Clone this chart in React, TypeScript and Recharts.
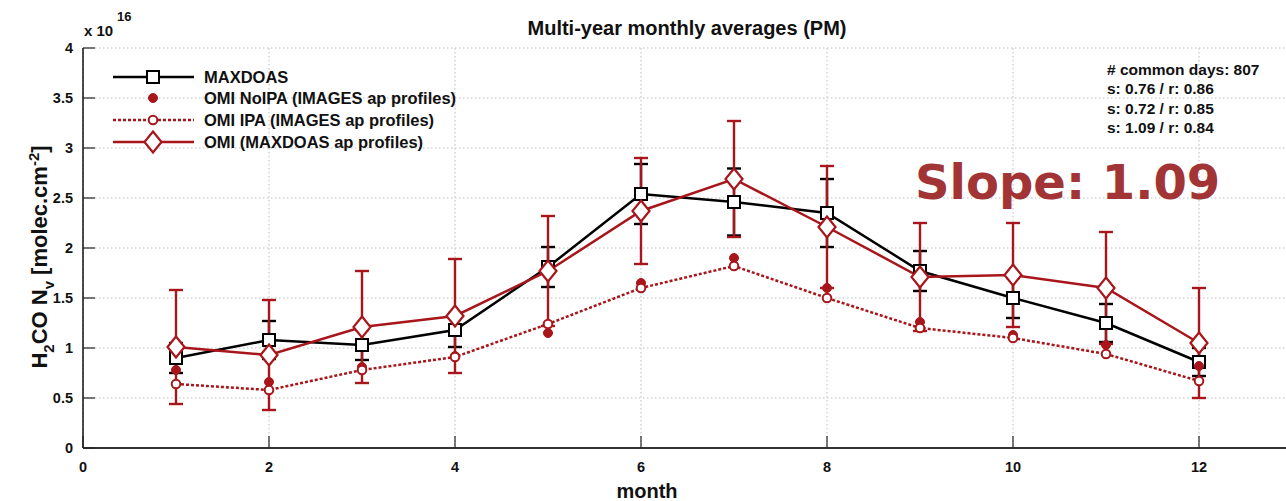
import React from 'react';
import { LineChart, Line, XAxis, YAxis, CartesianGrid, ErrorBar, Legend } from 'recharts';

const months = [1, 2, 3, 4, 5, 6, 7, 8, 9, 10, 11, 12];
const maxdoas = [0.9, 1.08, 1.03, 1.18, 1.81, 2.54, 2.46, 2.35, 1.77, 1.5, 1.25, 0.86];
const maxdoasErr = [0.15, 0.19, 0.15, 0.17, 0.2, 0.3, 0.335, 0.34, 0.2, 0.2, 0.19, 0.14];
const omiNoIpa = [0.78, 0.66, 0.81, 0.92, 1.15, 1.65, 1.9, 1.6, 1.26, 1.13, 1.03, 0.82];
const omiIpa = [0.64, 0.58, 0.78, 0.91, 1.24, 1.6, 1.82, 1.5, 1.2, 1.1, 0.94, 0.67];
const omiMaxAp = [1.01, 0.93, 1.21, 1.32, 1.77, 2.37, 2.69, 2.21, 1.71, 1.73, 1.6, 1.05];
const omiMaxApErr = [0.57, 0.55, 0.56, 0.57, 0.55, 0.53, 0.58, 0.61, 0.54, 0.52, 0.56, 0.55];

const xTicks = [0, 2, 4, 6, 8, 10, 12];
const yTicks = [0, 0.5, 1, 1.5, 2, 2.5, 3, 3.5, 4];
const legendLabels = [
  'MAXDOAS',
  'OMI NoIPA (IMAGES ap profiles)',
  'OMI IPA (IMAGES ap profiles)',
  'OMI (MAXDOAS ap profiles)',
];
const statsLines = ['# common days: 807', 's: 0.76 / r: 0.86', 's: 0.72 / r: 0.85', 's: 1.09 / r: 0.84'];
const titleText = 'Multi-year monthly averages (PM)';
const slopeText = 'Slope: 1.09';

const RED = '#a8161b';
const FONT = '"Liberation Sans", Arial, Helvetica, sans-serif';

const data = months.map((m, i) => ({
  month: m,
  maxdoas: maxdoas[i],
  maxdoasErr: maxdoasErr[i],
  noipa: omiNoIpa[i],
  ipa: omiIpa[i],
  omi: omiMaxAp[i],
  omiErr: omiMaxApErr[i],
}));

const squareShape = (cx: number, cy: number, key?: string) => (
  <rect key={key} x={cx - 6} y={cy - 6} width={12} height={12} fill="#fff" stroke="#000" strokeWidth={2} />
);
const diamondShape = (cx: number, cy: number, key?: string) => (
  <path
    key={key}
    d={`M${cx},${cy - 10.5} L${cx + 8.5},${cy} L${cx},${cy + 10.5} L${cx - 8.5},${cy} Z`}
    fill="#fff"
    stroke={RED}
    strokeWidth={2.2}
  />
);
const filledCircle = (cx: number, cy: number, key?: string) => (
  <circle key={key} cx={cx} cy={cy} r={4.5} fill={RED} stroke={RED} strokeWidth={1} />
);
const openCircle = (cx: number, cy: number, key?: string) => (
  <circle key={key} cx={cx} cy={cy} r={4.3} fill="#fff" stroke={RED} strokeWidth={2} />
);

const mkDot = (fn: any, name: string) => (p: any) => {
  if (p == null || p.cx == null || p.cy == null) return <g key={`${name}-e-${p && p.index}`} />;
  return fn(p.cx, p.cy, `${name}-${p.index}`);
};

const XTick = (props: any) => {
  const { x, y, payload } = props;
  return (
    <g>
      <line x1={x} y1={y} x2={x} y2={y - 12} stroke="#222" strokeWidth={1.2} />
      <text x={x} y={y + 24} textAnchor="middle" fontFamily={FONT} fontWeight="bold" fontSize={14.5} fill="#111">
        {payload.value}
      </text>
    </g>
  );
};

const YTick = (props: any) => {
  const { x, y, payload } = props;
  return (
    <g>
      <line x1={x} y1={y} x2={x + 12} y2={y} stroke="#222" strokeWidth={1.2} />
      <text x={x - 10} y={y + 5} textAnchor="end" fontFamily={FONT} fontWeight="bold" fontSize={14.5} fill="#111">
        {payload.value}
      </text>
    </g>
  );
};

const LegendContent = () => {
  const rows = [17, 38, 60, 82];
  return (
    <svg width={380} height={100} style={{ display: 'block' }}>
      <line x1={13} y1={rows[0]} x2={94} y2={rows[0]} stroke="#000" strokeWidth={2.5} />
      {squareShape(53, rows[0])}
      {filledCircle(53, rows[1])}
      <line x1={13} y1={rows[2]} x2={94} y2={rows[2]} stroke={RED} strokeWidth={2.5} strokeDasharray="3 2" />
      {openCircle(53, rows[2])}
      <line x1={13} y1={rows[3]} x2={94} y2={rows[3]} stroke={RED} strokeWidth={2.5} />
      {diamondShape(53, rows[3])}
      {legendLabels.map((l, i) => (
        <text key={l} x={104} y={rows[i] + 6} fontFamily={FONT} fontWeight="bold" fontSize={16.5} fill="#111">
          {l}
        </text>
      ))}
    </svg>
  );
};

export default function App() {
  return (
    <div
      style={{
        position: 'absolute',
        left: 0,
        top: 0,
        width: 1286,
        height: 501,
        overflow: 'hidden',
        background: '#fff',
      }}
    >
      <LineChart width={1300} height={501} data={data} margin={{ top: 48, right: 8, bottom: 23, left: 33 }}>
        <CartesianGrid stroke="#bdbdbd" strokeDasharray="1.5 2.5" strokeWidth={1} />
        <XAxis
          dataKey="month"
          type="number"
          domain={[0, 13]}
          ticks={xTicks}
          height={30}
          tickSize={0}
          tickMargin={0}
          tick={<XTick />}
          axisLine={{ stroke: '#333', strokeWidth: 2 }}
          tickLine={false}
          allowDecimals
          interval={0}
        />
        <YAxis
          type="number"
          domain={[0, 4]}
          ticks={yTicks}
          width={50}
          tickSize={0}
          tickMargin={0}
          tick={<YTick />}
          axisLine={{ stroke: '#111', strokeWidth: 1.5 }}
          tickLine={false}
          interval={0}
        />
        <Legend
          layout="horizontal"
          verticalAlign="middle"
          align="center"
          content={<LegendContent />}
          wrapperStyle={{ position: 'absolute', left: 100, top: 60, width: 380, height: 100 }}
        />
        <Line
          dataKey="maxdoas"
          stroke="#000"
          strokeWidth={2.5}
          isAnimationActive={false}
          dot={mkDot(squareShape, 'sq')}
          activeDot={false}
        >
          <ErrorBar dataKey="maxdoasErr" direction="y" width={7} stroke="#000" strokeWidth={2.4} />
        </Line>
        <Line
          dataKey="noipa"
          stroke="none"
          strokeWidth={0}
          isAnimationActive={false}
          dot={mkDot(filledCircle, 'fc')}
          activeDot={false}
        />
        <Line
          dataKey="ipa"
          stroke={RED}
          strokeWidth={2.5}
          strokeDasharray="3 2"
          isAnimationActive={false}
          dot={mkDot(openCircle, 'oc')}
          activeDot={false}
        />
        <Line
          dataKey="omi"
          stroke={RED}
          strokeWidth={2.5}
          isAnimationActive={false}
          dot={mkDot(diamondShape, 'dm')}
          activeDot={false}
        >
          <ErrorBar dataKey="omiErr" direction="y" width={7} stroke={RED} strokeWidth={2.4} />
        </Line>
      </LineChart>
      <svg
        width={1286}
        height={501}
        style={{ position: 'absolute', left: 0, top: 0, pointerEvents: 'none' }}
      >
        <text x={687} y={35} textAnchor="middle" fontFamily={FONT} fontWeight="bold" fontSize={20} fill="#111">
          {titleText}
        </text>
        <text x={84} y={36} fontFamily={FONT} fontWeight="bold" fontSize={15} fill="#111">
          x 10
        </text>
        <text x={117} y={21} fontFamily={FONT} fontWeight="bold" fontSize={13} fill="#111">
          16
        </text>
        <text
          x={47}
          y={257}
          transform="rotate(-90 47 257)"
          textAnchor="middle"
          fontFamily={FONT}
          fontWeight="bold"
          fontSize={22}
          fill="#111"
        >
          H
          <tspan dy={7} fontSize={15}>2</tspan>
          <tspan dy={-7}>CO N</tspan>
          <tspan dy={7} fontSize={15}>v</tspan>
          <tspan dy={-7}> [molec.cm</tspan>
          <tspan dy={-8} fontSize={15}>-2</tspan>
          <tspan dy={8}>]</tspan>
        </text>
        <text x={647} y={498} textAnchor="middle" fontFamily={FONT} fontWeight="bold" fontSize={20} fill="#111">
          month
        </text>
        {statsLines.map((s, i) => (
          <text key={s} x={1107} y={[75, 94, 114, 133][i]} fontFamily={FONT} fontWeight="bold" fontSize={15.5} fill="#111">
            {s}
          </text>
        ))}
        <text x={915} y={199} fontFamily='"DejaVu Sans", Verdana, sans-serif' fontWeight="bold" fontSize={48} fill="#a23436">
          {slopeText}
        </text>
      </svg>
    </div>
  );
}
